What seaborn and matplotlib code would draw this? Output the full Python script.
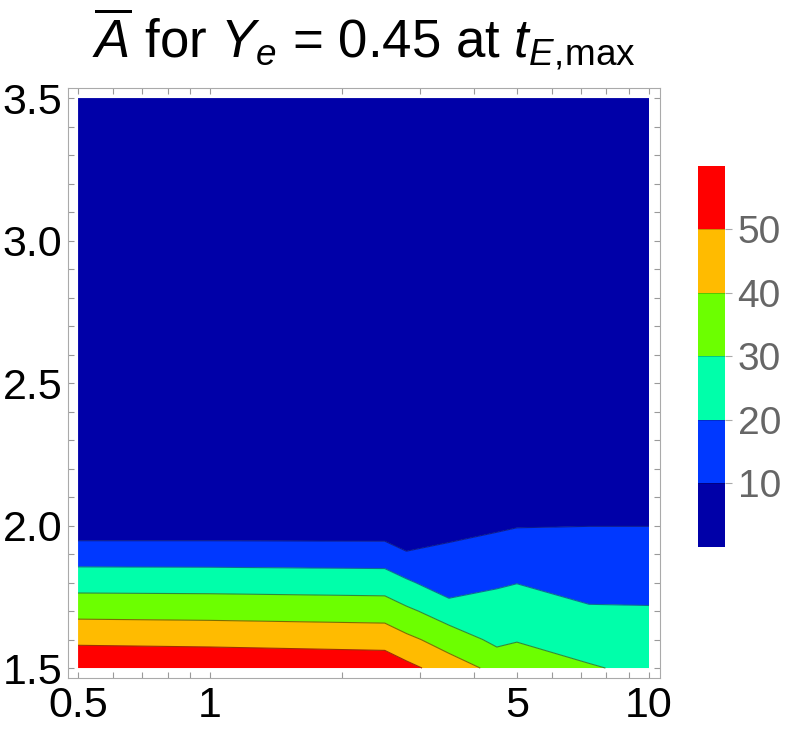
"""
Contour map of mean mass number A for Ye = 0.45 at t_E,max
"""
import matplotlib
matplotlib.use('Agg')
import matplotlib.pyplot as plt
from matplotlib.colors import ListedColormap, BoundaryNorm
from matplotlib.ticker import FixedLocator, FixedFormatter, NullFormatter
import numpy as np
import seaborn as sns

# grid (x on log axis, y linear)
x_vals = [0.5, 1.0, 2.5, 2.8, 3.5, 4.5, 5.0, 7.3, 10.0]
y_vals = [1.5, 1.6, 1.7, 1.8, 1.9, 2.0, 3.5]

# A-bar values, one list per y row
a_y150 = [58.7, 57.9, 56.5, 52.6, 45.0, 37.0, 34.0, 30.8, 27.5]
a_y160 = [47.8, 47.2, 46.0, 42.2, 35.3, 27.5, 29.6, 25.9, 24.0]
a_y170 = [36.9, 36.5, 35.6, 31.8, 24.8, 23.9, 24.6, 20.9, 20.7]
a_y180 = [26.0, 25.8, 25.1, 21.4, 14.1, 18.9, 19.8, 17.1, 17.1]
a_y190 = [15.1, 15.0, 14.7, 11.0, 11.5, 13.9, 14.7, 13.5, 13.5]
a_y200 = [4.2, 4.3, 4.3, 1.0, 7.8, 8.8, 9.6, 9.9, 9.9]
a_y350 = [0.5, 0.5, 0.5, 0.5, 0.5, 0.5, 0.5, 0.5, 0.5]

levels = [0, 10, 20, 30, 40, 50, 60]
cbar_ticks = [10, 20, 30, 40, 50]
band_colors = ['#0000a8', '#0038ff', '#00ffaa', '#6cff00', '#ffbb00', '#ff0000']
line_colors = ['#0a1a90', '#0a7090', '#2f8a3a', '#7a7000', '#a03000']

x_major = [0.5, 1, 5, 10]
x_major_labels = ['0.5', '1', '5', '10']
x_minor = [0.6, 0.7, 0.8, 0.9, 2, 3, 4, 6, 7, 8, 9]
y_major = [1.5, 2.0, 2.5, 3.0, 3.5]
y_major_labels = ['1.5', '2.0', '2.5', '3.0', '3.5']
y_minor = [1.6, 1.7, 1.8, 1.9, 2.1, 2.2, 2.3, 2.4, 2.6, 2.7, 2.8, 2.9,
           3.1, 3.2, 3.3, 3.4]

title = r'$\overline{A}$ for $Y_e$ = 0.45 at $t_{E,\!\mathrm{max}}$'

# style
sns.set_theme(style='white')
plt.rcParams['font.family'] = ['Liberation Sans', 'DejaVu Sans']
plt.rcParams['mathtext.fontset'] = 'custom'
plt.rcParams['mathtext.rm'] = 'Liberation Sans'
plt.rcParams['mathtext.it'] = 'Liberation Sans:italic'
plt.rcParams['mathtext.bf'] = 'Liberation Sans:bold'

X, Y = np.meshgrid(np.array(x_vals), np.array(y_vals))
Z = np.array([a_y150, a_y160, a_y170, a_y180, a_y190, a_y200, a_y350])

cmap = ListedColormap(band_colors)
norm = BoundaryNorm(levels, cmap.N)

fig = plt.figure(figsize=(7.89, 7.37), dpi=100)
ax = fig.add_axes([0.0862, 0.0800, 0.7503, 0.8005])
cax = fig.add_axes([0.8847, 0.2578, 0.0342, 0.5170])

cf = ax.contourf(X, Y, Z, levels=levels, cmap=cmap, norm=norm, antialiased=True)
ax.contour(X, Y, Z, levels=cbar_ticks, colors=line_colors, linewidths=0.8)

ax.set_xscale('log')
ax.set_xlim(0.4743, 10.594)
ax.set_ylim(1.4649, 3.5351)

ax.xaxis.set_major_locator(FixedLocator(x_major))
ax.xaxis.set_major_formatter(FixedFormatter(x_major_labels))
ax.xaxis.set_minor_locator(FixedLocator(x_minor))
ax.xaxis.set_minor_formatter(NullFormatter())
ax.yaxis.set_major_locator(FixedLocator(y_major))
ax.yaxis.set_major_formatter(FixedFormatter(y_major_labels))
ax.yaxis.set_minor_locator(FixedLocator(y_minor))

ax.tick_params(which='both', direction='in', top=True, right=True,
               bottom=True, left=True, color='#9a9a9a', width=0.8)
ax.tick_params(which='major', length=4.5, labelsize=31, labelcolor='black')
ax.tick_params(axis='x', which='major', pad=6)
ax.tick_params(axis='y', which='major', pad=4)
ax.tick_params(which='minor', length=4)
for sp in ax.spines.values():
    sp.set_color('#aaaaaa')
    sp.set_linewidth(0.8)
ax.grid(False)

ax.set_title(title, fontsize=38, pad=22, color='black')

cb = fig.colorbar(cf, cax=cax, ticks=cbar_ticks)
cb.outline.set_visible(False)
for lev in cbar_ticks:
    cax.axhline(lev, color=(0, 0, 0, 0.25), lw=0.6)
cax.tick_params(direction='out', length=5, width=0.8, color='#aaaaaa',
                labelsize=28, labelcolor='#666666', pad=4)
cax.minorticks_off()

fig.savefig('out.png', dpi=100)
plt.close(fig)
